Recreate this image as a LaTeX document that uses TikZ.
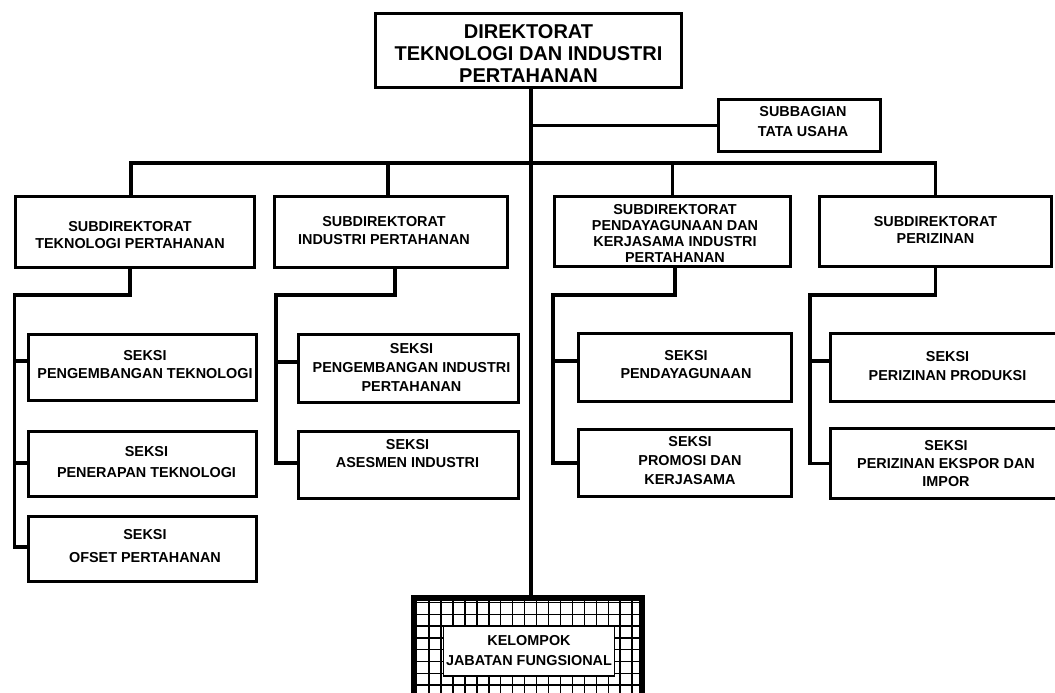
\documentclass[tikz,border=0pt]{standalone}
\usepackage{fontspec}
\setmainfont{Liberation Sans}
\begin{document}
\begin{tikzpicture}[x=1pt,y=-1pt,
  conn/.style={line width=3.2pt},
  box/.style={draw, line width=3.2pt, inner sep=0pt, fill=white},
  lbl/.style={align=center, inner sep=0pt, font=\fontsize{14.4}{#1}\selectfont\bfseries},
  lbl/.default=18,
  biglbl/.style={align=center, inner sep=0pt, font=\fontsize{20}{21.7}\selectfont\bfseries},
  frame/.style={draw, line width=4pt, inner sep=0pt, fill=white},
  gridl/.style={line width=1.5pt},
  inbox/.style={draw, line width=1.2pt, inner sep=0pt, fill=white}]
\useasboundingbox (0,0) rectangle (1055,693);

% top level
\node[box, minimum width=306pt, minimum height=74pt,
  label={[biglbl, yshift=-3pt]center:DIREKTORAT\\TEKNOLOGI DAN INDUSTRI\\PERTAHANAN}] (top) at (528.5,50.5) {};
\node[box, minimum width=162pt, minimum height=52pt,
  label={[lbl=20, xshift=3.5pt, yshift=3.5pt]center:SUBBAGIAN\\TATA USAHA}] (sub) at (799.5,125.5) {};

% subdirektorat
\node[box, minimum width=239pt, minimum height=71pt,
  label={[lbl=16.5, xshift=-5pt, yshift=-3pt]center:SUBDIREKTORAT\\TEKNOLOGI PERTAHANAN}] (s1) at (135,232) {};
\node[box, minimum width=233pt, minimum height=71pt,
  label={[lbl=18, xshift=-7pt, yshift=1pt]center:SUBDIREKTORAT\\INDUSTRI PERTAHANAN}] (s2) at (391,232) {};
\node[box, minimum width=236pt, minimum height=70pt,
  label={[lbl=15.7, xshift=2.5pt, yshift=-2pt]center:SUBDIREKTORAT\\PENDAYAGUNAAN DAN\\KERJASAMA INDUSTRI\\PERTAHANAN}] (s3) at (672.5,231.5) {};
\node[box, minimum width=232pt, minimum height=70pt,
  label={[lbl=16.5, yshift=1.5pt]center:SUBDIREKTORAT\\PERIZINAN}] (s4) at (935.5,231.5) {};

% seksi column 1
\node[box, minimum width=228pt, minimum height=66pt,
  label={[lbl=18, xshift=2.5pt, yshift=2.5pt]center:SEKSI\\PENGEMBANGAN TEKNOLOGI}] (k1a) at (142.5,367.5) {};
\node[box, minimum width=228pt, minimum height=65pt,
  label={[lbl=21, xshift=4pt, yshift=1.5pt]center:SEKSI\\PENERAPAN TEKNOLOGI}] (k1b) at (142.5,464) {};
\node[box, minimum width=228pt, minimum height=65pt,
  label={[lbl=23, xshift=2.5pt, yshift=2.5pt]center:SEKSI\\OFSET PERTAHANAN}] (k1c) at (142.5,549) {};

% seksi column 2
\node[box, minimum width=220pt, minimum height=68pt,
  label={[lbl=19, xshift=3pt, yshift=1.5pt]center:SEKSI\\PENGEMBANGAN INDUSTRI\\PERTAHANAN}] (k2a) at (408.5,368.5) {};
\node[box, minimum width=220pt, minimum height=67pt,
  label={[lbl=18, xshift=-1pt, yshift=11pt]center:SEKSI\\ASESMEN INDUSTRI}] (k2b) at (408.5,465) {};

% seksi column 3
\node[box, minimum width=213pt, minimum height=68pt,
  label={[lbl=18, xshift=1pt, yshift=2.5pt]center:SEKSI\\PENDAYAGUNAAN}] (k3a) at (685,367.5) {};
\node[box, minimum width=213pt, minimum height=67pt,
  label={[lbl=19, xshift=5pt, yshift=2pt]center:SEKSI\\PROMOSI DAN\\KERJASAMA}] (k3b) at (685,463) {};

% seksi column 4
\node[box, minimum width=228pt, minimum height=68pt,
  label={[lbl=19, xshift=3pt, yshift=1pt]center:SEKSI\\PERIZINAN PRODUKSI}] (k4a) at (944.5,367.5) {};
\node[box, minimum width=228pt, minimum height=70pt,
  label={[lbl=18, xshift=1.5pt, yshift=-0.5pt]center:SEKSI\\PERIZINAN EKSPOR DAN\\IMPOR}] (k4b) at (944.5,463.5) {};

% kelompok jabatan fungsional (grid frame)
\node[frame, minimum width=226pt, minimum height=111pt] (kjf) at (528,654.5) {};
\begin{scope}
  \clip (kjf.north west) rectangle (kjf.south east);
  \foreach \i in {0,...,17} \draw[gridl] ({429+11.95*\i},590) -- ({429+11.95*\i},720);
  \foreach \j in {0,...,9} \draw[gridl] (410,{602.5+11.8*\j}) -- (650,{602.5+11.8*\j});
\end{scope}
\draw[line width=4pt] (kjf.south west) -- (kjf.north west) -- (kjf.north east) -- (kjf.south east);
\node[inbox, minimum width=171pt, minimum height=50pt,
  label={[lbl=20]center:KELOMPOK\\JABATAN FUNGSIONAL}] (kin) at (529,651) {};

% connectors
\coordinate (tr) at (531,163);
\draw[conn] (top.south -| tr) -- (kjf.north -| tr);
\draw[conn] (sub.west) -- (sub.west -| tr);
\draw[conn] ([xshift=-4pt]s1.north) -- ([xshift=-4pt]s1.north |- tr) -- (s4.north |- tr) -- (s4.north);
\draw[conn] ([xshift=-3pt]s2.north) -- ([xshift=-3pt]s2.north |- tr);
\draw[conn] (s3.north) -- (s3.north |- tr);

% column 1
\coordinate (r1) at (14.5,295);
\draw[conn] ([xshift=-5pt]s1.south) |- (r1) |- ([yshift=2pt]k1c.west);
\draw[conn] ([yshift=6.5pt]k1a.west) -- ([yshift=6.5pt]k1a.west -| r1);
\draw[conn] ([yshift=1pt]k1b.west) -- ([yshift=1pt]k1b.west -| r1);

% column 2
\coordinate (r2) at (276,295);
\draw[conn] ([xshift=4pt]s2.south) |- (r2) |- ([yshift=2pt]k2b.west);
\draw[conn] ([yshift=6.5pt]k2a.west) -- ([yshift=6.5pt]k2a.west -| r2);

% column 3
\coordinate (r3) at (553,295);
\draw[conn] ([xshift=2.5pt]s3.south) |- (r3) |- (k3b.west);
\draw[conn] ([yshift=6.5pt]k3a.west) -- ([yshift=6.5pt]k3a.west -| r3);

% column 4
\coordinate (r4) at (810,295);
\draw[conn] (s4.south) |- (r4) |- (k4b.west);
\draw[conn] ([yshift=6.5pt]k4a.west) -- ([yshift=6.5pt]k4a.west -| r4);
\end{tikzpicture}
\end{document}
